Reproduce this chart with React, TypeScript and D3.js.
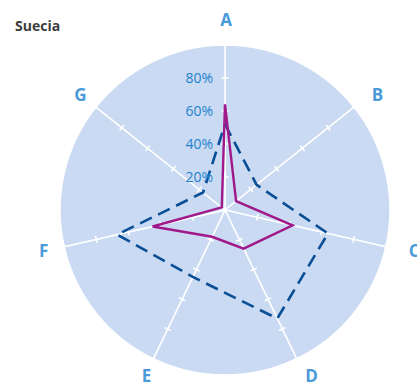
import React from "react";
import * as d3 from "d3";

const categories = ["A", "B", "C", "D", "E", "F", "G"];
const seriesDashed = [0.52, 0.245, 0.64, 0.73, 0.45, 0.67, 0.17];
const seriesSolid = [0.64, 0.086, 0.42, 0.26, 0.18, 0.45, 0.025];
const tickValues = [0.2, 0.4, 0.6, 0.8];
const tickLabels = ["20%", "40%", "60%", "80%"];
const title = "Suecia";

const W = 417;
const H = 387;
const cx = 225;
const cy = 210;
const R = 165;

export default function App() {
  const n = categories.length;
  const angle = d3
    .scaleLinear()
    .domain([0, n])
    .range([0, 2 * Math.PI]);
  const r = d3.scaleLinear().domain([0, 1]).range([0, R]);
  const pt = (i: number, v: number): [number, number] => {
    const a = angle(i);
    return [cx + Math.sin(a) * r(v), cy - Math.cos(a) * r(v)];
  };
  const arc = d3.arc<any>();
  const sectors = categories.map((_, i) =>
    arc({
      innerRadius: 0,
      outerRadius: R,
      startAngle: angle(i),
      endAngle: angle(i + 1),
    })
  );
  const line = d3
    .line<number>()
    .x((v, i) => pt(i, v)[0])
    .y((v, i) => pt(i, v)[1])
    .curve(d3.curveLinearClosed);

  return (
    <svg
      width={W}
      height={H}
      style={{ position: "absolute", left: 0, top: 0 }}
      fontFamily="'Open Sans', 'Noto Sans', sans-serif"
    >
      <text x={15} y={30.5} fontSize={14} fontWeight={700} fill="#3c3c3c">
        {title}
      </text>
      <g transform={`translate(${cx},${cy})`}>
        {sectors.map((d, i) => (
          <path key={i} d={d || ""} fill="#c9daf2" stroke="#ffffff" strokeWidth={1.5} />
        ))}
      </g>
      {categories.map((c, i) => {
        const a = angle(i);
        const px = Math.cos(a);
        const py = Math.sin(a);
        return (
          <g key={c}>
            {tickValues.map((t) => {
              const [tx, ty] = pt(i, t);
              return (
                <line
                  key={t}
                  x1={tx - px * 3.5}
                  y1={ty - py * 3.5}
                  x2={tx + px * 3.5}
                  y2={ty + py * 3.5}
                  stroke="#ffffff"
                  strokeWidth={1.6}
                />
              );
            })}
            {(() => {
              const [ex, ey] = pt(i, 1);
              return (
                <line
                  x1={ex - px * 3}
                  y1={ey - py * 3}
                  x2={ex + px * 3}
                  y2={ey + py * 3}
                  stroke="#ffffff"
                  strokeWidth={1.6}
                />
              );
            })()}
          </g>
        );
      })}
      <path
        d={line(seriesDashed) || ""}
        fill="none"
        stroke="#0a4f96"
        strokeWidth={2.6}
        strokeDasharray="13,7"
        strokeLinejoin="miter"
      />
      <path
        d={line(seriesSolid) || ""}
        fill="none"
        stroke="#a0188a"
        strokeWidth={2.4}
        strokeLinejoin="miter"
      />
      {tickValues.map((t, k) => (
        <text
          key={t}
          x={213}
          y={cy - r(t)}
          dy="0.35em"
          textAnchor="end"
          fontSize={14}
          fill="#1f82cf"
        >
          {tickLabels[k]}
        </text>
      ))}
      {categories.map((c, i) => {
        const a = angle(i);
        const x = cx + Math.sin(a) * 190 + (i === 0 ? 1 : 4);
        const y = i === 0 ? cy - 190 : cy - Math.cos(a) * 184;
        return (
          <text
            key={c}
            x={x}
            y={y}
            dy="0.35em"
            textAnchor="middle"
            fontSize={17}
            fontWeight={700}
            fill="#4a9ad9"
          >
            {c}
          </text>
        );
      })}
    </svg>
  );
}
